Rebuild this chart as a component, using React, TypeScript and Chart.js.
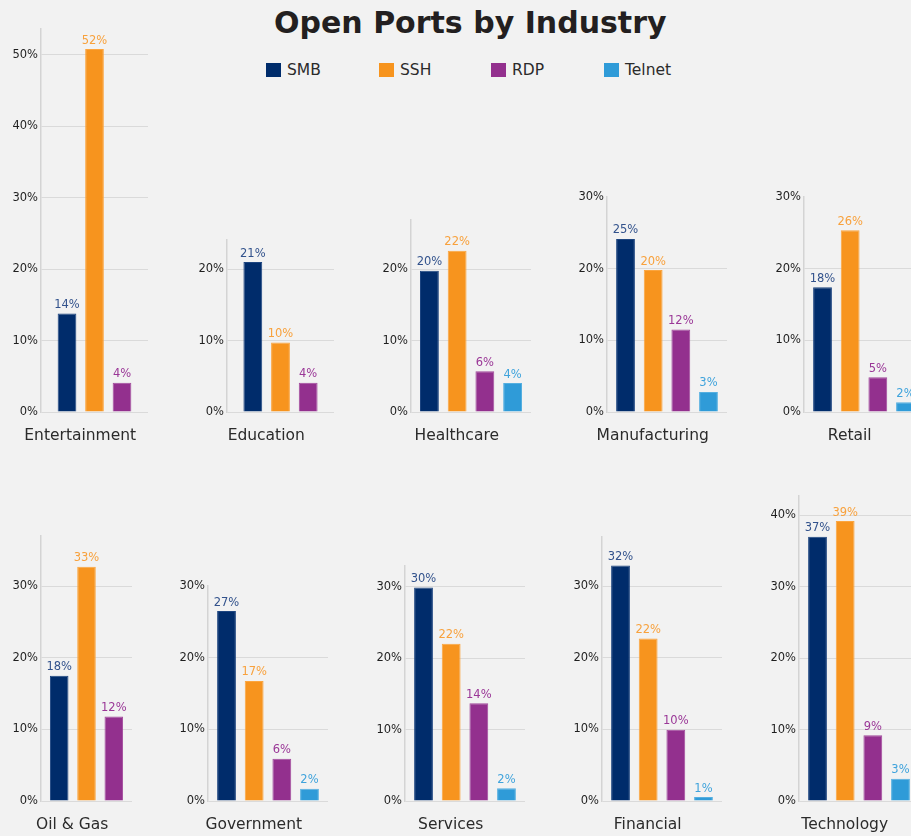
import React, { useEffect, useRef } from "react";
import { Chart, registerables } from "chart.js";

Chart.register(...registerables);

// ---------- data ----------
const industries = [
  "Entertainment", "Education", "Healthcare", "Manufacturing", "Retail",
  "Oil & Gas", "Government", "Services", "Financial", "Technology",
];
const seriesNames = ["SMB", "SSH", "RDP", "Telnet"];
const smbValues = [13.8, 21.0, 19.8, 24.15, 17.4, 17.5, 26.5, 29.9, 32.9, 37.0];
const sshValues = [50.8, 9.75, 22.6, 19.8, 25.35, 32.7, 16.75, 22.0, 22.7, 39.2];
const rdpValues = [4.1, 4.1, 5.7, 11.5, 4.85, 11.8, 5.9, 13.7, 9.95, 9.2];
const telnetValues: (number | null)[] = [null, null, 4.05, 2.8, 1.35, null, 1.7, 1.8, 0.55, 3.1];
const smbLabels = ["14%", "21%", "20%", "25%", "18%", "18%", "27%", "30%", "32%", "37%"];
const sshLabels = ["52%", "10%", "22%", "20%", "26%", "33%", "17%", "22%", "22%", "39%"];
const rdpLabels = ["4%", "4%", "6%", "12%", "5%", "12%", "6%", "14%", "10%", "9%"];
const telnetLabels = ["", "", "4%", "3%", "2%", "", "2%", "2%", "1%", "3%"];
const axisMax = [53.6, 24.1, 26.9, 30, 30, 37, 30, 32.9, 36.9, 42.7];
const tickStep = 10;

// ---------- styles / layout ----------
const barColors = ["#002c6b", "#f7941e", "#93308e", "#2f9bd8"];
const barEdge = ["#1d4580", "#fba53f", "#a24a9d", "#55afe0"];
const labelColors = ["#32528c", "#f8a13c", "#9a3797", "#3fa3dc"];
const FONT = "'DejaVu Sans', sans-serif";
const PX_PER_UNIT = 7.15;
const Y_AXIS_W = 40;
const PAD_TOP = 16;
const PAD_BOTTOM = 40;
const baselines = [412, 801];
const layout = [
  { axisX: 41, areaW: 107, cat: 0.771 },
  { axisX: 227, areaW: 107, cat: 0.776 },
  { axisX: 411, areaW: 120, cat: 0.924 },
  { axisX: 607, areaW: 120, cat: 0.922 },
  { axisX: 804, areaW: 120, cat: 0.922 },
  { axisX: 41, areaW: 91, cat: 0.9 },
  { axisX: 208, areaW: 120, cat: 0.922 },
  { axisX: 405, areaW: 120, cat: 0.922 },
  { axisX: 602, areaW: 120, cat: 0.922 },
  { axisX: 799, areaW: 120, cat: 0.922 },
];

const valueArrays = [smbValues, sshValues, rdpValues, telnetValues];
const labelArrays = [smbLabels, sshLabels, rdpLabels, telnetLabels];

const labelsPlugin = {
  id: "panelLabels",
  afterDatasetsDraw(chart: any) {
    const ctx = chart.ctx;
    ctx.save();
    ctx.font = `11.5px ${FONT}`;
    ctx.textAlign = "center";
    ctx.textBaseline = "alphabetic";
    chart.data.datasets.forEach((ds: any, i: number) => {
      const meta = chart.getDatasetMeta(i);
      meta.data.forEach((bar: any) => {
        ctx.fillStyle = ds.labelColor;
        ctx.fillText(ds.valueLabel, bar.x, bar.y - 5.5);
      });
    });
    ctx.restore();
  },
  afterDraw(chart: any) {
    const ctx = chart.ctx;
    const area = chart.chartArea;
    ctx.save();
    ctx.font = `11.5px ${FONT}`;
    const yScale = chart.scales.y;
    let widest = 0;
    yScale.ticks.forEach((t: any) => {
      const w = ctx.measureText(t.value + "%").width;
      if (w > widest) widest = w;
    });
    const left = area.left - 3 - widest;
    const cx = (left + area.right) / 2;
    ctx.font = `15.5px ${FONT}`;
    ctx.fillStyle = "#2b2b2b";
    ctx.textAlign = "center";
    ctx.textBaseline = "alphabetic";
    ctx.fillText(chart.data.labels[0], cx, area.bottom + 28);
    ctx.restore();
  },
};

function Panel({ index }: { index: number }) {
  const ref = useRef<HTMLCanvasElement | null>(null);
  const lay = layout[index];
  const max = axisMax[index];
  const areaH = Math.round(max * PX_PER_UNIT);
  const row = index < 5 ? 0 : 1;
  const width = Y_AXIS_W + lay.areaW;
  const height = PAD_TOP + areaH + PAD_BOTTOM;
  const top = baselines[row] - areaH - PAD_TOP;
  const left = lay.axisX - Y_AXIS_W;

  useEffect(() => {
    if (!ref.current) return;
    const datasets: any[] = [];
    seriesNames.forEach((name, s) => {
      const v = valueArrays[s][index];
      if (v === null || v === undefined) return;
      datasets.push({
        label: name,
        data: [v],
        backgroundColor: barColors[s],
        borderColor: barEdge[s],
        borderWidth: 1,
        barPercentage: 0.68,
        categoryPercentage: lay.cat,
        labelColor: labelColors[s],
        valueLabel: labelArrays[s][index],
      });
    });
    const chart = new Chart(ref.current, {
      type: "bar",
      data: { labels: [industries[index]], datasets },
      options: {
        responsive: false,
        animation: false,
        layout: { padding: { top: PAD_TOP, bottom: PAD_BOTTOM, left: 0, right: 0 } },
        plugins: { legend: { display: false }, tooltip: { enabled: false }, title: { display: false } },
        scales: {
          x: { display: false },
          y: {
            min: 0,
            max,
            afterFit: (s: any) => { s.width = Y_AXIS_W; },
            ticks: {
              stepSize: tickStep,
              includeBounds: false,
              padding: 3,
              color: "#1f1f1f",
              font: { size: 11.5, family: FONT },
              callback: (v: any) => v + "%",
            },
            grid: {
              drawTicks: false,
              lineWidth: 1,
              color: (c: any) =>
                c.tick && c.tick.value > 0 && c.tick.value >= max - 0.001 ? "rgba(0,0,0,0)" : "#dadada",
            },
            border: { display: true, color: "#d4d4d4", width: 1.5 },
          },
        },
      } as any,
      plugins: [labelsPlugin],
    });
    return () => chart.destroy();
  }, [index]);

  return (
    <canvas
      ref={ref}
      width={width}
      height={height}
      style={{ position: "absolute", left, top, width, height }}
    />
  );
}

export default function App() {
  const legendX = [266, 379, 491, 604];
  return (
    <div
      style={{
        position: "absolute",
        left: 0,
        top: 0,
        width: 911,
        height: 836,
        overflow: "hidden",
        background: "#f2f2f2",
        fontFamily: FONT,
      }}
    >
      <div
        style={{
          position: "absolute",
          left: 274,
          top: 3,
          fontFamily: "'DejaVu Sans', sans-serif",
          fontWeight: 700,
          fontSize: 30,
          lineHeight: "40px",
          color: "#231f20",
          whiteSpace: "nowrap",
        }}
      >
        Open Ports by Industry
      </div>
      {seriesNames.map((name, i) => (
        <div
          key={name}
          style={{ position: "absolute", left: legendX[i], top: 61, height: 18, display: "flex", alignItems: "center" }}
        >
          <span style={{ display: "inline-block", width: 15, height: 14, background: barColors[i], marginRight: 6 }} />
          <span style={{ fontSize: 15.5, color: "#2b2b2b", lineHeight: "18px" }}>{name}</span>
        </div>
      ))}
      {industries.map((_, i) => (
        <Panel key={i} index={i} />
      ))}
    </div>
  );
}
